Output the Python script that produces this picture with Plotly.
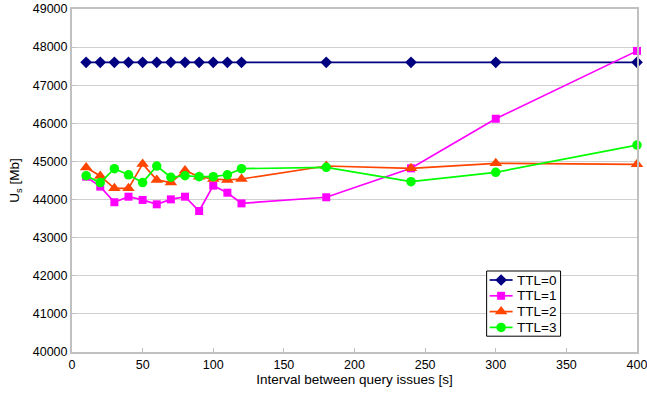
import plotly.graph_objects as go

x_vals = [10, 20, 30, 40, 50, 60, 70, 80, 90, 100, 110, 120, 180, 240, 300, 400]
ttl0 = [47600] * 16
ttl1 = [44600, 44340, 43930, 44075, 43990, 43875, 44005, 44075, 43700, 44365, 44180, 43900, 44060, 44820, 46120, 47900]
ttl2 = [44840, 44620, 44295, 44295, 44935, 44515, 44445, 44760, 44600, 44540, 44515, 44540, 44880, 44820, 44950, 44925]
ttl3 = [44625, 44445, 44810, 44650, 44445, 44880, 44585, 44625, 44600, 44600, 44650, 44810, 44845, 44470, 44715, 45430]

series = [
    ("TTL=0", ttl0, "#000080", "diamond", 9),
    ("TTL=1", ttl1, "#FF00FF", "square", 8),
    ("TTL=2", ttl2, "#FF4500", "triangle-up", 11),
    ("TTL=3", ttl3, "#00FF00", "circle", 9.5),
]

W, H = 647, 398
L, R, T, B = 72, 9.5, 9, 46

fig = go.Figure()
for name, ys, color, sym, size in series:
    fig.add_trace(go.Scatter(
        x=x_vals, y=ys, name=name, mode="lines+markers",
        line=dict(color=color, width=1.7),
        marker=dict(symbol=sym, size=size, color=color, line=dict(width=0)),
        cliponaxis=False, showlegend=False,
    ))

# custom compact legend (pixel coordinates in an overlay axis)
leg_x0, leg_x1, leg_y0 = 487, 561, 271
row_h = 15.8
leg_y1 = leg_y0 + 4 * row_h + 2
fig.add_trace(go.Scatter(
    x=[leg_x0, leg_x1, leg_x1, leg_x0, leg_x0], y=[leg_y0, leg_y0, leg_y1, leg_y1, leg_y0],
    mode="lines", fill="toself", fillcolor="white", line=dict(color="black", width=1),
    xaxis="x2", yaxis="y2", showlegend=False, hoverinfo="skip",
))
for i, (name, ys, color, sym, size) in enumerate(series):
    yy = leg_y0 + 9 + i * row_h
    fig.add_trace(go.Scatter(
        x=[490, 513], y=[yy, yy], mode="lines", xaxis="x2", yaxis="y2",
        line=dict(color=color, width=1.7), showlegend=False, hoverinfo="skip",
    ))
    fig.add_trace(go.Scatter(
        x=[501.5], y=[yy], mode="markers", xaxis="x2", yaxis="y2",
        marker=dict(symbol=sym, size=size, color=color, line=dict(width=0)),
        showlegend=False, hoverinfo="skip",
    ))
    fig.add_annotation(x=515, y=yy, xref="x2", yref="y2", text=name, showarrow=False,
                       xanchor="left", yanchor="middle", font=dict(size=13.5, color="black"))

font_family = "Liberation Sans, Arial, Helvetica, sans-serif"
fig.update_layout(
    width=W, height=H, autosize=False,
    margin=dict(l=L, r=R, t=T, b=B, autoexpand=False),
    paper_bgcolor="white", plot_bgcolor="white",
    font=dict(family=font_family, size=12, color="black"),
    showlegend=False,
    xaxis=dict(
        range=[0, 400], dtick=50, tick0=0, automargin=False,
        showgrid=False, zeroline=False,
        showline=True, linecolor="#c0c0c0", linewidth=2, mirror=True,
        ticks="inside", ticklen=4, tickcolor="#c0c0c0",
        ticklabeloverflow="allow",
        title=dict(text="Interval between query issues [s]", standoff=2, font=dict(size=13.5)),
        tickfont=dict(size=12.5),
    ),
    yaxis=dict(
        range=[40000, 49000], dtick=1000, tickformat="d", automargin=False,
        showgrid=True, gridcolor="#d0d0d0", gridwidth=1, zeroline=False,
        showline=True, linecolor="#c0c0c0", linewidth=2, mirror=True,
        ticks="inside", ticklen=4, tickcolor="#c0c0c0",
        ticklabeloverflow="allow",
        title=dict(text="U<sub>s</sub> [Mb]", standoff=10, font=dict(size=13.5)),
        tickfont=dict(size=12.5),
    ),
    xaxis2=dict(overlaying="x", range=[L, W - R], visible=False, fixedrange=True),
    yaxis2=dict(overlaying="y", range=[H - B, T], visible=False, fixedrange=True),
)

fig.write_html("out.html", config={"displayModeBar": False},
               post_script="document.body.style.margin='0px';")
